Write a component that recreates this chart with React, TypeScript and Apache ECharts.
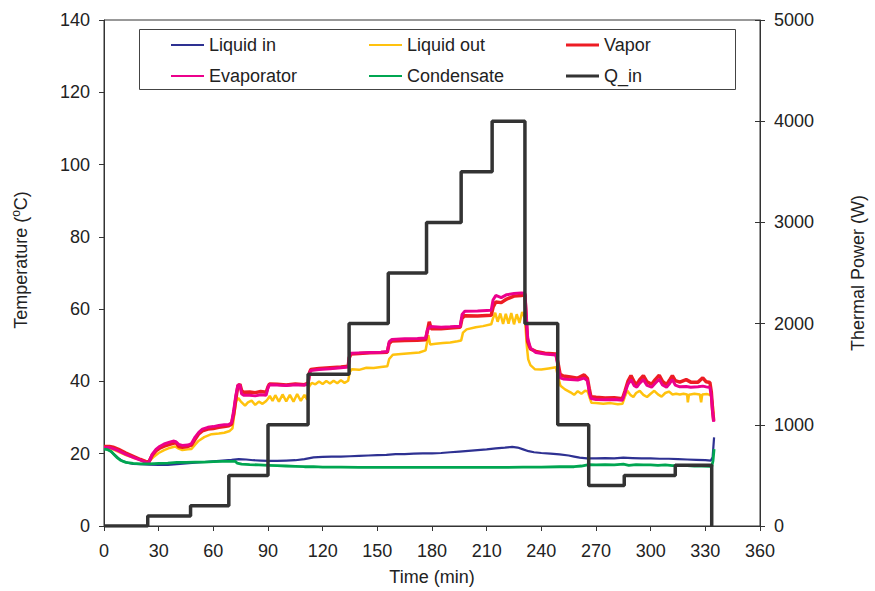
import { useEffect, useRef } from 'react';
import * as echarts from 'echarts';

type Pt = [number, number];

// Time (min) vs temperature (°C)
const liquidIn: Pt[] = [[0,21.5],[2,21.2],[4,20.5],[6,19.6],[8,18.7],[10,18],[13,17.5],[16,17.2],[20,17.1],[25,17],[30,16.9],[35,16.9],[40,17.1],[45,17.3],[50,17.5],[55,17.7],[60,17.9],[65,18.1],[70,18.3],[74,18.5],[78,18.4],[82,18.2],[86,18.1],[90,18],[95,18],[100,18.1],[105,18.2],[110,18.5],[115,19],[120,19.1],[125,19.2],[130,19.2],[135,19.3],[140,19.4],[145,19.5],[150,19.6],[155,19.7],[160,19.9],[165,19.9],[170,20],[175,20.1],[180,20.1],[185,20.2],[190,20.4],[195,20.6],[200,20.8],[205,21],[210,21.2],[215,21.5],[220,21.7],[224,21.9],[227,21.7],[230,21.2],[233,20.7],[236,20.4],[240,20.2],[245,20],[250,19.8],[255,19.5],[258,19.2],[261,18.9],[265,18.7],[270,18.7],[275,18.8],[280,18.7],[285,18.9],[290,18.8],[295,18.7],[300,18.7],[305,18.6],[310,18.6],[315,18.5],[320,18.4],[325,18.3],[330,18.2],[333,18.1],[334,19],[334.8,24.5]];

const liquidOut: Pt[] = [[0,21.6],[3,21.5],[5,21.2],[8,20.5],[12,19.6],[16,18.9],[20,18.3],[23,17.9],[24.5,17.8],[27,19],[30,20.2],[33,21],[36,21.6],[39,22],[41,21.4],[43,21],[46,21.2],[48,21.3],[50,22.5],[52,23.6],[55,24.6],[59,25.4],[63,25.6],[66,25.8],[69,26.3],[70.5,27],[71.5,31],[72.5,34.5],[73.7,35.4],[75,34.5],[77.4,33.3],[79,34.2],[81,34.7],[83,33.5],[85,34.4],[87,33.8],[89,34.6],[90,35.2],[91,36],[92.5,34.6],[94,36.2],[96,34.4],[98,36.4],[100,34.5],[102,36.3],[104,34.4],[106,36.5],[108,34.6],[110,36.3],[111.5,35],[112.5,38.5],[114,39.6],[116,39.2],[118,40],[120,39.3],[122,40.1],[124,39.4],[126,40.2],[128,39.5],[130,40.3],[132,39.6],[134,40.2],[134.8,42.5],[136,43.4],[140,43.2],[144,43.8],[148,43.7],[152,44],[155.5,44.2],[156.5,46.2],[158.5,47.4],[163,47.6],[168,47.8],[173,48],[176.5,48.6],[178,52.8],[179,50.2],[182,50.4],[186,50.6],[190,50.8],[194,51.1],[196,51.3],[197,53.5],[199,54.4],[204,55],[208,55.3],[212.5,55.8],[213.5,57.5],[214.7,59],[216,56.5],[217.5,58.8],[219,55.9],[220.5,58.7],[222,56],[223.5,58.9],[225,55.8],[226.5,58.6],[228,56.2],[229.5,59.2],[231,57.5],[232,50],[232.8,46.1],[234,44.5],[236.4,43.4],[240,43.3],[244,43.6],[248,43.9],[249.3,41],[250.5,38.8],[253,37.8],[256,37],[258,36.3],[260,37.3],[262,36.6],[264,37.4],[265.5,37.2],[266.5,35.5],[267.5,34.1],[270,34],[274,33.8],[278,34],[282,33.7],[284.5,33.8],[286,36],[287.2,37.4],[289,36.2],[290.5,35.7],[292,36.8],[294,37.4],[296,36.3],[298,35.7],[300,36.6],[302,37.4],[304,36.4],[306,35.8],[308,36.8],[310,37.2],[312,36.4],[314,36.6],[316,36.4],[318,36.6],[320,36.4],[320.4,34.2],[321,36.3],[324,36.6],[327,36.4],[327.7,34.2],[328.3,36.4],[331,36.5],[333,36.2],[334,34],[334.5,31]];

const vapor: Pt[] = [[0,22],[3,22],[5,21.8],[8,21.2],[12,20.2],[16,19.3],[20,18.4],[23,17.8],[24.5,17.6],[26.5,19.6],[28.5,20.8],[30.5,21.5],[33,22.1],[36,22.6],[38,22.9],[39.5,23.1],[41,22],[43,21.8],[46,22],[48,22.4],[50,24],[52,25.5],[54,26.3],[57,26.8],[60,27],[63,27.3],[66,27.5],[68.5,27.7],[70,28.2],[71.2,31],[72.3,35],[73.5,38.8],[74.6,39.2],[75.5,37.5],[76.5,37],[80,37.1],[83,36.9],[86,37.2],[89,37],[90,38.5],[90.8,39.3],[95,39.2],[100,39],[105,39.3],[110,39.1],[112,39.5],[112.8,42.5],[113.5,43.3],[118,43.6],[124,43.8],[130,44],[134,44.2],[134.6,46.5],[135.5,47.6],[140,47.7],[146,47.9],[152,48],[155.5,48.1],[156.5,50.5],[158,51.2],[165,51.3],[172,51.4],[176.5,51.5],[177.5,54],[178.5,56.5],[179.5,54.6],[185,54.6],[190,54.8],[195.5,55],[196.5,57.5],[198,58.2],[205,58.1],[212.5,58.3],[213.5,60.5],[215,62],[218,61.8],[221,62.8],[225,63.6],[229,63.8],[231,64],[231.8,56],[232.5,51],[234,49],[237,48.3],[242,47.8],[248,47.6],[249.2,45],[250.3,42],[252,41.5],[256,41.2],[260,40.9],[263.5,41.8],[265.3,40.8],[266.3,38],[267.2,35.8],[270,35.6],[275,35.4],[280,35.5],[284.5,35.2],[286,37.5],[287.5,40],[289.2,41.6],[291,39.8],[292.4,39.2],[294,40.5],[296,41.6],[298,39.9],[300.5,39.2],[302.5,40.5],[304.7,41.7],[306.5,40],[308.7,39.1],[310.5,40.5],[311.9,41.6],[313.5,40.2],[316,39.8],[319.5,40.5],[322,39.8],[326,39.8],[328.6,41],[330.5,39.9],[332.5,39.7],[333.3,37],[334,32],[334.6,29.1]];

const evaporator: Pt[] = [[0,21.7],[3,21.7],[5,21.4],[8,20.8],[12,19.8],[16,19],[20,18.2],[23,17.6],[24.5,17.5],[26.5,19.9],[28.5,21.2],[30.5,22],[33,22.7],[36,23.2],[38,23.5],[39.5,23.3],[41,22.6],[43,22.3],[46,22.4],[48,22.8],[50,24.6],[52,25.9],[54,26.8],[57,27.3],[60,27.5],[63,27.8],[66,28],[68.5,28.1],[70,28.6],[71.2,32],[72.3,36],[73.5,39],[74.6,39],[75.5,36.6],[76.5,36.2],[80,36.2],[83,36],[86,36.3],[89,36.2],[90,38.3],[90.8,39.1],[95,39],[100,38.9],[105,39.1],[110,39],[112,39.3],[112.8,42.2],[113.5,43],[118,43.3],[124,43.5],[130,43.8],[134,44],[134.6,46.8],[135.5,47.8],[140,47.9],[146,48],[152,48.1],[155.5,48.3],[156.5,51],[158,51.6],[165,51.8],[172,51.9],[176.5,52],[177.5,54.3],[179,55.2],[185,55],[190,55.1],[195.5,55.3],[196.5,58.5],[198,59.4],[205,59.5],[212.5,59.7],[213.5,62.5],[215,63.8],[218,63.2],[221,64],[225,64.3],[229,64.5],[231,64.4],[231.8,58],[232.5,52],[234,49.3],[237,48],[242,47.6],[248,47.3],[249.2,44],[250.3,41],[252,40.7],[256,40.5],[260,40.4],[263.5,40.9],[265.3,40.2],[266.3,37],[267.2,35.3],[270,35],[275,34.9],[280,35],[284.5,34.8],[286,37],[287.5,39.2],[289.2,40.5],[291,38.8],[292.4,38.4],[294,39.5],[296,40.5],[298,38.9],[300.5,38.4],[302.5,39.5],[304.7,40.6],[306.5,39],[308.7,38.4],[310.5,39.5],[311.9,40.5],[313.5,39],[316,38.5],[319.5,38.6],[322,38.4],[326,38.5],[328.6,38.7],[330.5,38.5],[332.5,38.3],[333.3,36],[334,31.5],[334.6,28.8]];

const condensate: Pt[] = [[0,21.3],[2,21.1],[4,20.6],[5.5,19.8],[7,19],[9,18.2],[12,17.6],[16,17.3],[20,17.2],[25,17.2],[30,17.3],[35,17.4],[40,17.6],[45,17.6],[50,17.7],[55,17.7],[60,17.8],[65,17.9],[70,17.9],[72,17.9],[73,17.4],[75.5,17.1],[80,17],[85,16.9],[90,16.8],[95,16.7],[100,16.6],[105,16.5],[110,16.4],[115,16.4],[120,16.3],[130,16.3],[140,16.2],[150,16.2],[160,16.2],[170,16.2],[180,16.2],[190,16.2],[200,16.2],[210,16.2],[220,16.2],[230,16.3],[240,16.3],[250,16.4],[258,16.4],[262,16.6],[266,17],[270,16.9],[275,17],[280,16.9],[285,17.1],[288,16.8],[292,17],[296,16.9],[300,16.9],[304,16.8],[308,16.9],[312,16.7],[316,16.8],[320,16.7],[324,16.6],[328,16.6],[332,16.5],[333.5,16.4],[334.2,18],[334.8,21.3]];

// Heater power steps: [start time (min), power (W)]
const qIn: Pt[] = [[0,0],[24,100],[47.5,200],[68.5,500],[90,1000],[112,1500],[134.5,2000],[156,2500],[177,3000],[196,3500],[213,4000],[231,2000],[249,1000],[266,400],[285.5,500],[313.5,600],[333.5,0]];

const xTicks = { min: 0, max: 360, interval: 30 };
const tempTicks = { min: 0, max: 140, interval: 20 };
const powerTicks = { min: 0, max: 5000, interval: 1000 };

const FONT = '"Liberation Sans", Arial, sans-serif';
const FS = 18;
const TXT = '#222';
const AXIS = '#333';

const legendSlots = [
  { name: 'Liquid in', left: 171, top: 36, h: 2 },
  { name: 'Liquid out', left: 369, top: 36, h: 2 },
  { name: 'Vapor', left: 566, top: 36, h: 3 },
  { name: 'Evaporator', left: 171, top: 67, h: 2 },
  { name: 'Condensate', left: 369, top: 67, h: 2 },
  { name: 'Q_in', left: 566, top: 67, h: 3 },
];

export default function App() {
  const ref = useRef<HTMLDivElement>(null);

  useEffect(() => {
    if (!ref.current) return;
    const chart = echarts.init(ref.current, undefined, { renderer: 'svg' });

    const axisCommon = {
      axisLine: { show: true, lineStyle: { color: AXIS, width: 1 } },
      axisTick: { show: true, length: 5, lineStyle: { color: AXIS } },
      axisLabel: { color: TXT, fontSize: FS, fontFamily: FONT },
      splitLine: { show: false },
      nameTextStyle: { color: TXT, fontSize: FS, fontFamily: FONT },
    };

    const line = (name: string, data: Pt[], color: string, width: number, yAxisIndex = 0, step?: string) => ({
      name,
      type: 'line',
      data,
      yAxisIndex,
      color,
      step: step || false,
      showSymbol: false,
      symbol: 'none',
      lineStyle: { color, width },
      z: 2,
    });

    chart.setOption({
      animation: false,
      backgroundColor: '#fff',
      grid: {
        left: 104,
        right: 107,
        top: 20,
        bottom: 64,
        show: true,
        borderColor: AXIS,
        borderWidth: 1,
      },
      legend: legendSlots.map((s) => ({
        data: [s.name],
        left: s.left,
        top: s.top,
        padding: 0,
        icon: 'rect',
        itemWidth: 33,
        itemHeight: s.h,
        selectedMode: false,
        textStyle: { color: TXT, fontSize: FS, fontFamily: FONT },
      })),
      xAxis: {
        type: 'value',
        ...xTicks,
        ...axisCommon,
        name: 'Time (min)',
        nameLocation: 'middle',
        nameGap: 42,
        axisLabel: { ...axisCommon.axisLabel, margin: 16 },
      },
      yAxis: [
        {
          type: 'value',
          ...tempTicks,
          ...axisCommon,
          axisLabel: { ...axisCommon.axisLabel, margin: 14 },
          name: 'Temperature ({sup|o}C)',
          nameLocation: 'middle',
          nameRotate: 90,
          nameGap: 73,
          nameTextStyle: {
            ...axisCommon.nameTextStyle,
            padding: [0, 0, 0, 26],
            rich: { sup: { fontSize: 12, fontFamily: FONT, color: TXT, padding: [0, 0, 9, 0] } },
          },
        },
        {
          type: 'value',
          ...powerTicks,
          ...axisCommon,
          position: 'right',
          name: 'Thermal Power (W)',
          nameLocation: 'middle',
          nameRotate: 90,
          nameGap: 89,
          axisLabel: { ...axisCommon.axisLabel, margin: 14, formatter: (v: number) => String(v) },
        },
        {
          // inner half of the cross-style ticks on the power axis
          type: 'value',
          ...powerTicks,
          position: 'right',
          axisLine: { show: false },
          axisTick: { show: true, inside: true, length: 5, lineStyle: { color: AXIS } },
          axisLabel: { show: false },
          splitLine: { show: false },
        },
      ],
      graphic: [
        {
          type: 'rect',
          shape: { x: 139.5, y: 29.5, width: 596, height: 60 },
          style: { fill: '#fff', stroke: '#444', lineWidth: 1 },
          z: 0,
          silent: true,
        },
      ],
      series: [
        line('Liquid in', liquidIn, '#2E3192', 2.2),
        line('Liquid out', liquidOut, '#FFC20E', 2.5),
        line('Vapor', vapor, '#ED1C24', 3.5),
        line('Evaporator', evaporator, '#EC008C', 3),
        line('Condensate', condensate, '#00A651', 2.8),
        line('Q_in', qIn, '#333333', 3.5, 1, 'end'),
      ],
    });

    return () => chart.dispose();
  }, []);

  return <div ref={ref} style={{ width: 875, height: 591, position: 'absolute', left: 0, top: 0 }} />;
}
